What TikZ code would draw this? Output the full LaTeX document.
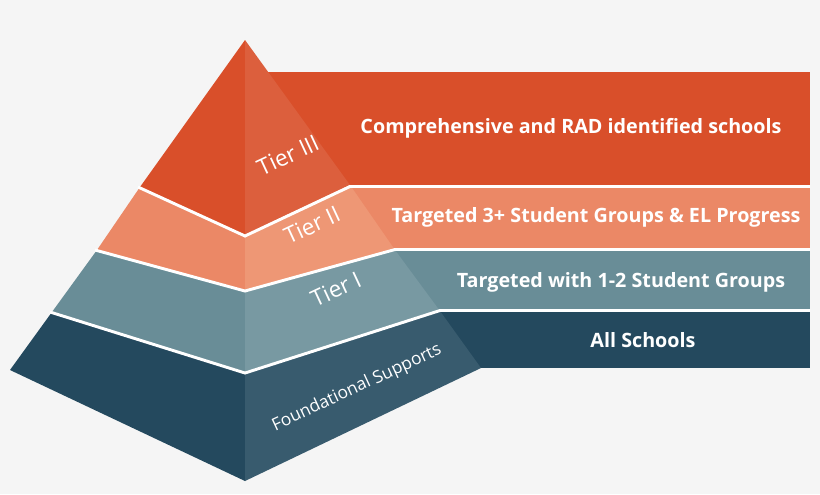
\documentclass[tikz,border=0pt]{standalone}
\usepackage{fontspec}
\setmainfont{Open Sans}
\begin{document}
\begin{tikzpicture}[x=0.75pt,y=-0.75pt,
  bar/.style={font=\bfseries\fontsize{14.8}{16}\selectfont,text=white},
  tier/.style={font=\fontsize{17}{19}\selectfont,text=white,rotate=25,inner sep=0pt},
  sep/.style={white,line width=2.2pt}]
\definecolor{cA}{HTML}{D94F2A}\definecolor{cAr}{HTML}{DC5F3D}
\definecolor{cB}{HTML}{EB8866}\definecolor{cBr}{HTML}{EE9775}
\definecolor{cC}{HTML}{698D97}\definecolor{cCr}{HTML}{7899A2}
\definecolor{cD}{HTML}{24495E}\definecolor{cDr}{HTML}{385B6E}
\fill[fill={rgb,255:red,245;green,245;blue,245}] (0,0) rectangle (820,494);
\useasboundingbox (0,0) rectangle (820,494);
% bars
\fill[cA] (260,72) rectangle (810,185);
\fill[cB] (340,188) rectangle (810,248);
\fill[cC] (380,251) rectangle (810,309);
\fill[cD] (430,312) rectangle (810,368);
% pyramid faces
\fill[cA] (245,40) -- (140,187) -- (245,235) -- cycle;
\fill[cAr] (245,40) -- (350,185) -- (245,235) -- cycle;
\fill[cB] (140,187) -- (97,250) -- (245,290) -- (245,235) -- cycle;
\fill[cBr] (350,185) -- (395,250) -- (245,290) -- (245,235) -- cycle;
\fill[cC] (97,250) -- (52,312) -- (245,372) -- (245,290) -- cycle;
\fill[cCr] (395,250) -- (440,311) -- (245,372) -- (245,290) -- cycle;
\fill[cD] (52,312) -- (10,370) -- (245,481) -- (245,372) -- cycle;
\fill[cDr] (440,311) -- (481,368) -- (245,481) -- (245,372) -- cycle;
% separators
\coordinate (l1) at (138,187); \coordinate (m1) at (245,236); \coordinate (r1) at (810,186.5);
\coordinate (l2) at (95,250); \coordinate (m2) at (245,291); \coordinate (r2) at (810,249.5);
\coordinate (l3) at (50,312); \coordinate (m3) at (245,373); \coordinate (r3) at (810,310.5);
\draw[sep] (l1) -- (m1) -- (350,186.5) -- (r1);
\draw[sep] (l2) -- (m2) -- (395,249.5) -- (r2);
\draw[sep] (l3) -- (m3) -- (440,310.5) -- (r3);
% labels
\node[bar] (b1) at (571,128) {Comprehensive and RAD identified schools};
\node[bar] (b2) at (596,217) {Targeted 3+ Student Groups \& EL Progress};
\node[bar] (b3) at (621,282) {Targeted with 1-2 Student Groups};
\node[bar] (b4) at (643,340) {All Schools};
\node[tier] (t1) at (288,155) {Tier III};
\node[tier] (t2) at (312,225) {Tier II};
\node[tier] (t3) at (336,289) {Tier I};
\node[tier,font=\fontsize{13}{15}\selectfont] (t4) at (357,388) {Foundational Supports};
\end{tikzpicture}
\end{document}
